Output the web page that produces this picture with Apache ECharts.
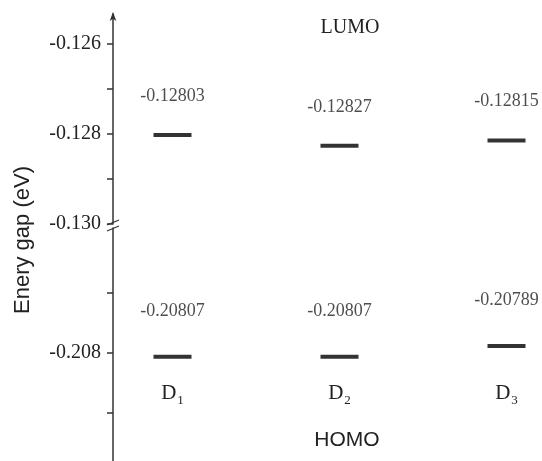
<!DOCTYPE html>
<html>
<head>
<meta charset="utf-8">
<script src="https://cdn.jsdelivr.net/npm/echarts@6/dist/echarts.min.js"></script>
<style>
  html, body { margin: 0; padding: 0; background: #fff; }
  #chart { width: 542px; height: 461px; }
</style>
</head>
<body>
<div id="chart"></div>
<script>
// Frontier orbital energies (eV) of the three dyes
const molecules = ['D1', 'D2', 'D3'];
const lumo = [-0.12803, -0.12827, -0.12815];
const homo = [-0.20807, -0.20807, -0.20789];

// Tick marks and labelled ticks of the two axis segments
const lumoTicks = [-0.126, -0.127, -0.128, -0.129, -0.130];
const lumoTickLabels = [-0.126, -0.128, -0.130];
const homoTicks = [-0.207, -0.208, -0.209];
const homoTickLabels = [-0.208];

const ink = '#222';
const serif = '"Liberation Serif", "Times New Roman", serif';
const sans = '"Liberation Sans", Arial, sans-serif';

const chart = echarts.init(document.getElementById('chart'), null, { renderer: 'canvas' });

function yAxisFor(gridIndex, min, max, ticks, labels, withArrow) {
  return {
    type: 'value',
    gridIndex: gridIndex,
    min: min,
    max: max,
    offset: -24,
    splitLine: { show: false },
    axisLine: {
      show: true,
      lineStyle: { color: '#333', width: 1.5 },
      symbol: withArrow ? ['none', 'arrow'] : ['none', 'none'],
      symbolSize: [5, 9],
      symbolOffset: [0, 2]
    },
    axisTick: { show: true, length: 6, customValues: ticks, lineStyle: { color: '#333', width: 1.5 } },
    axisLabel: {
      customValues: labels,
      margin: 12,
      color: ink,
      fontFamily: serif,
      fontSize: 20,
      formatter: v => v.toFixed(3)
    }
  };
}

function levelSeries(axisIndex, values, labelShift) {
  return {
    type: 'scatter',
    xAxisIndex: axisIndex,
    yAxisIndex: axisIndex,
    symbol: 'rect',
    symbolSize: [38, 4],
    itemStyle: { color: '#000' },
    data: values.map((v, i) => [molecules[i], v]),
    label: {
      show: true,
      position: 'inside',
      offset: [0, labelShift],
      color: ink,
      fontFamily: serif,
      fontSize: 18,
      formatter: p => p.value[1].toFixed(5)
    },
    silent: true
  };
}

chart.setOption({
  backgroundColor: '#fff',
  animation: false,
  grid: [
    { left: 89, width: 501, top: 14, height: 210, outerBoundsMode: 'none' },
    { left: 89, width: 501, top: 228, height: 233, outerBoundsMode: 'none' }
  ],
  xAxis: [
    { type: 'category', gridIndex: 0, data: molecules, show: false },
    {
      type: 'category',
      gridIndex: 1,
      data: molecules,
      offset: -89,
      axisLine: { show: false },
      axisTick: { show: false },
      axisLabel: {
        margin: 8,
        formatter: v => '{d|D}{s|' + v.slice(1) + '}',
        rich: {
          d: { fontFamily: serif, fontSize: 21, color: ink },
          s: { fontFamily: serif, fontSize: 13, color: ink, padding: [14, 0, 0, 1] }
        }
      }
    }
  ],
  yAxis: [
    yAxisFor(0, -0.130, -0.12535, lumoTicks, lumoTickLabels, true),
    yAxisFor(1, -0.20981, -0.20592, homoTicks, homoTickLabels, false)
  ],
  series: [
    levelSeries(0, lumo, -39),
    levelSeries(1, homo, -46)
  ]
});

// Axis break marks, y-axis title and the LUMO / HOMO captions
const breakY = chart.convertToPixel({ yAxisIndex: 0 }, -0.130);
const axisX = 113;
chart.setOption({
  graphic: [
    { type: 'line', shape: { x1: axisX - 6, y1: breakY + 1, x2: axisX + 6, y2: breakY - 4 }, style: { stroke: '#333', lineWidth: 1.3 } },
    { type: 'line', shape: { x1: axisX - 6, y1: breakY + 7, x2: axisX + 6, y2: breakY + 2 }, style: { stroke: '#333', lineWidth: 1.3 } },
    {
      type: 'text', x: 23, y: 240, rotation: Math.PI / 2,
      style: { text: 'Enery gap (eV)', fill: ink, font: '22px ' + sans, align: 'center', verticalAlign: 'middle' }
    },
    {
      type: 'text', x: 350, y: 28,
      style: { text: 'LUMO', fill: ink, font: '20px ' + serif, align: 'center', verticalAlign: 'middle' }
    },
    {
      type: 'text', x: 347, y: 440,
      style: { text: 'HOMO', fill: ink, font: '21px ' + sans, align: 'center', verticalAlign: 'middle' }
    }
  ]
});
</script>
</body>
</html>
